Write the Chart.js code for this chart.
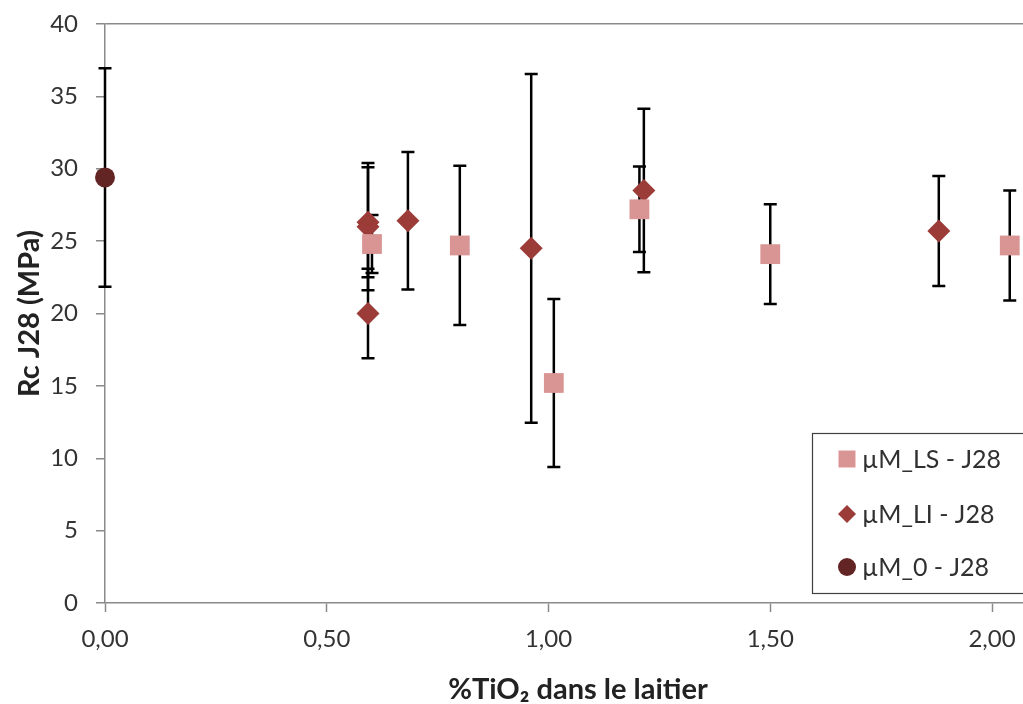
<!DOCTYPE html>
<html>
<head>
<meta charset="utf-8">
<script src="https://cdn.jsdelivr.net/npm/chart.js@4/dist/chart.umd.min.js"></script>
<style>
  html, body { margin: 0; padding: 0; overflow: hidden; background: #fff; }
  #chart { display: block; }
</style>
</head>
<body>
<canvas id="chart" width="1065" height="704"></canvas>
<script>
// Values
const xTicks = [0, 0.5, 1, 1.5, 2];

const lsX = [0.602, 0.80, 1.012, 1.205, 1.50, 2.04];
const lsY = [24.8, 24.7, 15.2, 27.2, 24.1, 24.7];
const lsErr = [2.0, 5.5, 5.8, 2.95, 3.45, 3.8];

const liX = [0.593, 0.593, 0.593, 0.683, 0.961, 1.215, 1.88];
const liY = [26.3, 26.0, 20.0, 26.4, 24.5, 28.5, 25.7];
const liErr = [3.8, 4.4, 3.1, 4.75, 12.05, 5.65, 3.8];

const m0X = [0];
const m0Y = [29.4];
const m0Err = [7.55];

const axisColor = '#8a8a8a';
const textColor = '#333333';
const FONT = 'Lato, "Open Sans", sans-serif';

const toPoints = (xs, ys) => xs.map((x, i) => ({ x, y: ys[i] }));
const frNum = v => Number(v).toFixed(2).replace('.', ',');

// vertical error bars, drawn under the markers
const errorBars = {
  id: 'errorBars',
  beforeDatasetsDraw(chart) {
    const { ctx, scales: { x, y } } = chart;
    ctx.save();
    ctx.strokeStyle = '#000';
    ctx.lineWidth = 2.5;
    chart.data.datasets.forEach(ds => {
      ds.data.forEach((p, i) => {
        const px = x.getPixelForValue(p.x);
        const top = y.getPixelForValue(p.y + ds.errors[i]);
        const bot = y.getPixelForValue(p.y - ds.errors[i]);
        ctx.beginPath();
        ctx.moveTo(px, top); ctx.lineTo(px, bot);
        ctx.moveTo(px - 6.5, top); ctx.lineTo(px + 6.5, top);
        ctx.moveTo(px - 6.5, bot); ctx.lineTo(px + 6.5, bot);
        ctx.stroke();
      });
    });
    ctx.restore();
  }
};

// boxed legend sitting inside the plot, bottom right
const boxLegend = {
  id: 'boxLegend',
  afterDraw(chart) {
    const { ctx } = chart;
    const left = 812, top = 433, bottom = 593, right = 1060;
    ctx.save();
    ctx.fillStyle = '#fff';
    ctx.fillRect(left, top, right - left, bottom - top);
    ctx.strokeStyle = '#404040';
    ctx.lineWidth = 1.2;
    ctx.strokeRect(left + 0.5, top + 0.5, right - left, bottom - top);
    const rows = [459, 514, 567];
    const sizes = [12, 9, 9];
    chart.data.datasets.forEach((ds, i) => {
      ctx.fillStyle = ds.backgroundColor;
      Chart.helpers.drawPoint(ctx, { pointStyle: ds.pointStyle, radius: sizes[i], rotation: 0, borderWidth: 0 }, 847, rows[i]);
      ctx.fillStyle = '#303030';
      ctx.font = '25px ' + FONT;
      ctx.textBaseline = 'middle';
      ctx.textAlign = 'left';
      ctx.fillText(ds.label, 862, rows[i] + 1);
    });
    ctx.restore();
  }
};

new Chart(document.getElementById('chart'), {
  type: 'scatter',
  data: {
    datasets: [
      {
        label: 'µM_LS - J28',
        data: toPoints(lsX, lsY),
        errors: lsErr,
        pointStyle: 'rect',
        pointRadius: 14,
        backgroundColor: '#D99594',
        borderWidth: 0,
        clip: false
      },
      {
        label: 'µM_LI - J28',
        data: toPoints(liX, liY),
        errors: liErr,
        pointStyle: 'rectRot',
        pointRadius: 11.5,
        backgroundColor: '#9B3C39',
        borderWidth: 0,
        clip: false
      },
      {
        label: 'µM_0 - J28',
        data: toPoints(m0X, m0Y),
        errors: m0Err,
        pointStyle: 'circle',
        pointRadius: 10,
        backgroundColor: '#632523',
        borderWidth: 0,
        clip: false
      }
    ]
  },
  options: {
    responsive: false,
    animation: false,
    layout: { padding: { top: 24, right: 0, left: 0, bottom: 0 } },
    plugins: {
      legend: { display: false },
      tooltip: { enabled: false }
    },
    scales: {
      x: {
        type: 'linear',
        min: 0,
        max: 2.133,
        afterBuildTicks: scale => { scale.ticks = xTicks.map(v => ({ value: v })); },
        afterFit: scale => { scale.height = 101; },
        ticks: {
          color: textColor,
          font: { family: FONT, size: 24 },
          padding: 13,
          maxRotation: 0,
          callback: v => frNum(v)
        },
        grid: { drawOnChartArea: false, tickColor: axisColor, tickLength: 9, tickWidth: 1.5 },
        border: { color: axisColor, width: 1.5 },
        title: {
          display: true,
          text: '%TiO₂ dans le laitier',
          color: '#222',
          font: { family: FONT, size: 29, weight: 'bold', lineHeight: 1 },
          padding: { top: 0, bottom: 0 }
        }
      },
      y: {
        min: 0,
        max: 40,
        afterFit: scale => { scale.width = 105; },
        ticks: {
          stepSize: 5,
          color: textColor,
          font: { family: FONT, size: 24, lineHeight: 0.5 },
          padding: 18
        },
        grid: {
          color: c => (c.tick && c.tick.value === 40 ? axisColor : 'rgba(0,0,0,0)'),
          tickColor: axisColor,
          tickLength: 9,
          lineWidth: 1.5,
          tickWidth: 1.5
        },
        border: { color: axisColor, width: 1.5 },
        title: {
          display: true,
          text: 'Rc J28 (MPa)',
          color: '#222',
          font: { family: FONT, size: 29, weight: 'bold', lineHeight: 1 },
          padding: { top: 15, bottom: 0 }
        }
      }
    }
  },
  plugins: [errorBars, boxLegend]
});
</script>
</body>
</html>
